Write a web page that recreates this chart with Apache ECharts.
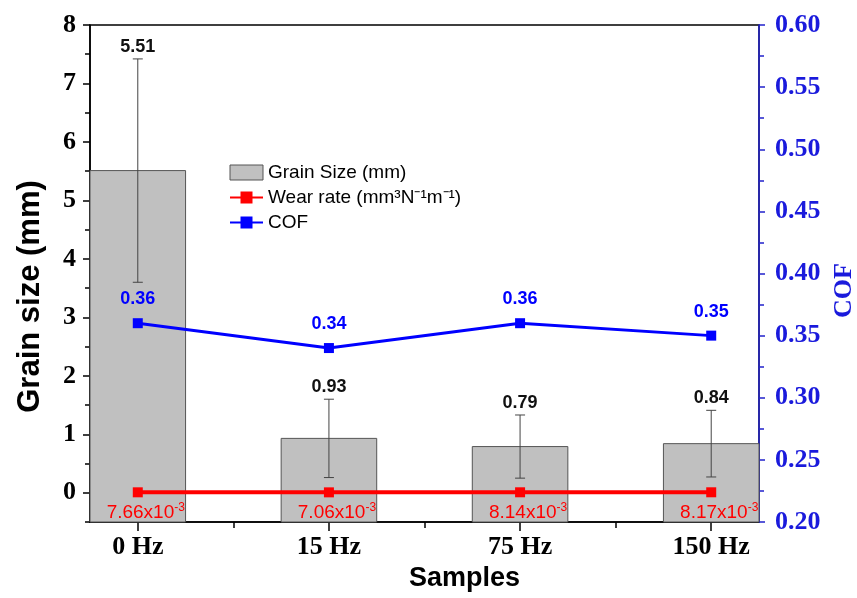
<!DOCTYPE html>
<html>
<head>
<meta charset="utf-8">
<script src="https://cdn.jsdelivr.net/npm/echarts@6/dist/echarts.min.js"></script>
<style>html,body{margin:0;padding:0;background:#fff;}#c{width:857px;height:598px;}</style>
</head>
<body>
<div id="c"></div>
<script>
var categories = ['0 Hz', '15 Hz', '75 Hz', '150 Hz'];
var grainSize = [5.51, 0.93, 0.79, 0.84];
var grainErr = [1.91, 0.67, 0.54, 0.57];
var wearRate = [7.66e-3, 7.06e-3, 8.14e-3, 8.17e-3];
var cof = [0.36, 0.34, 0.36, 0.35];
var leftTicks = [0, 1, 2, 3, 4, 5, 6, 7, 8];
var leftMinor = [-0.5, 0.5, 1.5, 2.5, 3.5, 4.5, 5.5, 6.5, 7.5];
var xTicks = [0, 1, 2, 3];
var xMinor = [0.5, 1.5, 2.5];

var SERIF = 'Liberation Serif';
var SANS = 'Liberation Sans';
var Y_MIN = -0.5;

var chart = echarts.init(document.getElementById('c'));

var barData = grainSize.map(function (v, i) { return [i, v, grainErr[i]]; });

var option = {
  animation: false,
  backgroundColor: '#fff',
  grid: { left: 90, right: 98, top: 25, bottom: 76, outerBoundsMode: 'none', containLabel: false,
    show: true, borderColor: '#000', borderWidth: 1.5, backgroundColor: 'transparent' },
  legend: {
    orient: 'vertical',
    left: 224, top: 158,
    itemWidth: 33, itemHeight: 15, itemGap: 6,
    textStyle: { fontFamily: SANS, fontSize: 19, color: '#000' },
    data: [
      { name: 'Grain Size (mm)', icon: 'rect', itemStyle: { color: '#c0c0c0', borderColor: '#555', borderWidth: 1 } },
      { name: 'Wear rate (mm³N⁻¹m⁻¹)' },
      { name: 'COF' }
    ]
  },
  xAxis: [{
    type: 'value', min: -0.25, max: 3.25,
    name: 'Samples', nameLocation: 'middle', nameGap: 43,
    nameTextStyle: { fontFamily: SANS, fontWeight: 'bold', fontSize: 27, color: '#000', padding: [0, 0, 0, 80] },
    axisLine: { show: true, onZero: false, lineStyle: { color: '#000', width: 1.5 } },
    axisTick: { show: true, inside: false, length: 9, customValues: xTicks, lineStyle: { color: '#000', width: 1.5 } },
    axisLabel: { customValues: xTicks, margin: 12, fontFamily: SERIF, fontWeight: 'bold', fontSize: 26, color: '#000',
      formatter: function (v) { return categories[Math.round(v)]; } },
    splitLine: { show: false }
  }, {
    type: 'value', min: -0.25, max: 3.25, position: 'bottom',
    axisLine: { show: false, onZero: false },
    axisTick: { show: true, length: 6, customValues: xMinor, lineStyle: { color: '#000', width: 1.5 } },
    axisLabel: { show: false }, splitLine: { show: false }
  }],
  yAxis: [{
    type: 'value', min: Y_MIN, max: 8, position: 'left',
    name: 'Grain size (mm)', nameLocation: 'middle', nameGap: 44, nameRotate: 90,
    nameTextStyle: { fontFamily: SANS, fontWeight: 'bold', fontSize: 31, color: '#000', padding: [0, 46, 0, 0] },
    axisLine: { show: true, onZero: false, lineStyle: { color: '#000', width: 1.5 } },
    axisTick: { show: true, length: 7, customValues: leftTicks, lineStyle: { color: '#000', width: 1.5 } },
    axisLabel: { customValues: leftTicks, margin: 14, fontFamily: SERIF, fontWeight: 'bold', fontSize: 26, color: '#000' },
    splitLine: { show: false }
  }, {
    type: 'value', min: 0.2, max: 0.6, interval: 0.05, position: 'right',
    name: 'COF', nameLocation: 'middle', nameGap: 70, nameRotate: 90,
    nameTextStyle: { fontFamily: SERIF, fontWeight: 'bold', fontSize: 26, color: '#1a1adc', padding: [0, 34, 0, 0] },
    axisLine: { show: true, onZero: false, lineStyle: { color: '#2222cc', width: 1.5 } },
    axisTick: { show: true, length: 6, lineStyle: { color: '#2222cc', width: 1.5 } },
    minorTick: { show: true, splitNumber: 2, length: 5, lineStyle: { color: '#2222cc', width: 1.5 } },
    axisLabel: { margin: 16, fontFamily: SERIF, fontWeight: 'bold', fontSize: 26, color: '#1a1adc',
      formatter: function (v) { return v.toFixed(2); } },
    splitLine: { show: false }
  }, {
    type: 'value', min: Y_MIN, max: 8, position: 'left',
    axisLine: { show: false, onZero: false },
    axisTick: { show: true, length: 5, customValues: leftMinor, lineStyle: { color: '#000', width: 1.5 } },
    axisLabel: { show: false }, splitLine: { show: false }
  }],
  series: [{
    name: 'Grain Size (mm)',
    type: 'custom',
    xAxisIndex: 0, yAxisIndex: 0,
    itemStyle: { color: '#c0c0c0', borderColor: '#555', borderWidth: 1 },
    encode: { x: 0, y: 1 },
    data: barData,
    z: 1,
    renderItem: function (params, api) {
      var x = api.value(0), v = api.value(1), e = api.value(2);
      var tl = api.coord([x - 0.25, v]);
      var br = api.coord([x + 0.25, Y_MIN]);
      var top = api.coord([x, v + e]);
      var bot = api.coord([x, v - e]);
      var cap = 5;
      return {
        type: 'group',
        children: [
          { type: 'rect', shape: { x: tl[0], y: tl[1], width: br[0] - tl[0], height: br[1] - tl[1] },
            style: { fill: '#c0c0c0', stroke: '#555', lineWidth: 1 } },
          { type: 'line', shape: { x1: top[0], y1: top[1], x2: bot[0], y2: bot[1] }, style: { stroke: '#444', lineWidth: 1 } },
          { type: 'line', shape: { x1: top[0] - cap, y1: top[1], x2: top[0] + cap, y2: top[1] }, style: { stroke: '#444', lineWidth: 1 } },
          { type: 'line', shape: { x1: bot[0] - cap, y1: bot[1], x2: bot[0] + cap, y2: bot[1] }, style: { stroke: '#444', lineWidth: 1 } },
          { type: 'text', x: top[0], y: top[1] - 3,
            style: { text: v.toFixed(2), fill: '#111', font: 'bold 18px "' + SANS + '"', textAlign: 'center', textVerticalAlign: 'bottom' } }
        ]
      };
    }
  }, {
    name: 'Wear rate (mm³N⁻¹m⁻¹)',
    type: 'line',
    xAxisIndex: 0, yAxisIndex: 0,
    data: wearRate.map(function (v, i) { return [i, v]; }),
    symbol: 'rect', symbolSize: 10,
    itemStyle: { color: '#ff0000' },
    lineStyle: { color: '#ff0000', width: 4 },
    z: 3,
    label: {
      show: true, position: 'bottom', distance: 4, offset: [8, 0],
      formatter: function (p) { return '{a|' + (p.value[1] * 1000).toFixed(2) + 'x10}{s|-3}'; },
      rich: {
        a: { fontFamily: SANS, fontSize: 19, color: '#ff0000', lineHeight: 22 },
        s: { fontFamily: SANS, fontSize: 12, color: '#ff0000', lineHeight: 12, verticalAlign: 'top' }
      }
    }
  }, {
    name: 'COF',
    type: 'line',
    xAxisIndex: 0, yAxisIndex: 1,
    data: cof.map(function (v, i) { return [i, v]; }),
    symbol: 'rect', symbolSize: 10,
    itemStyle: { color: '#0000ff' },
    lineStyle: { color: '#0000ff', width: 3 },
    z: 3,
    label: {
      show: true, position: 'top', distance: 10,
      fontFamily: SANS, fontWeight: 'bold', fontSize: 18, color: '#0000ff',
      formatter: function (p) { return p.value[1].toFixed(2); }
    }
  }]
};
chart.setOption(option);
</script>
</body>
</html>
